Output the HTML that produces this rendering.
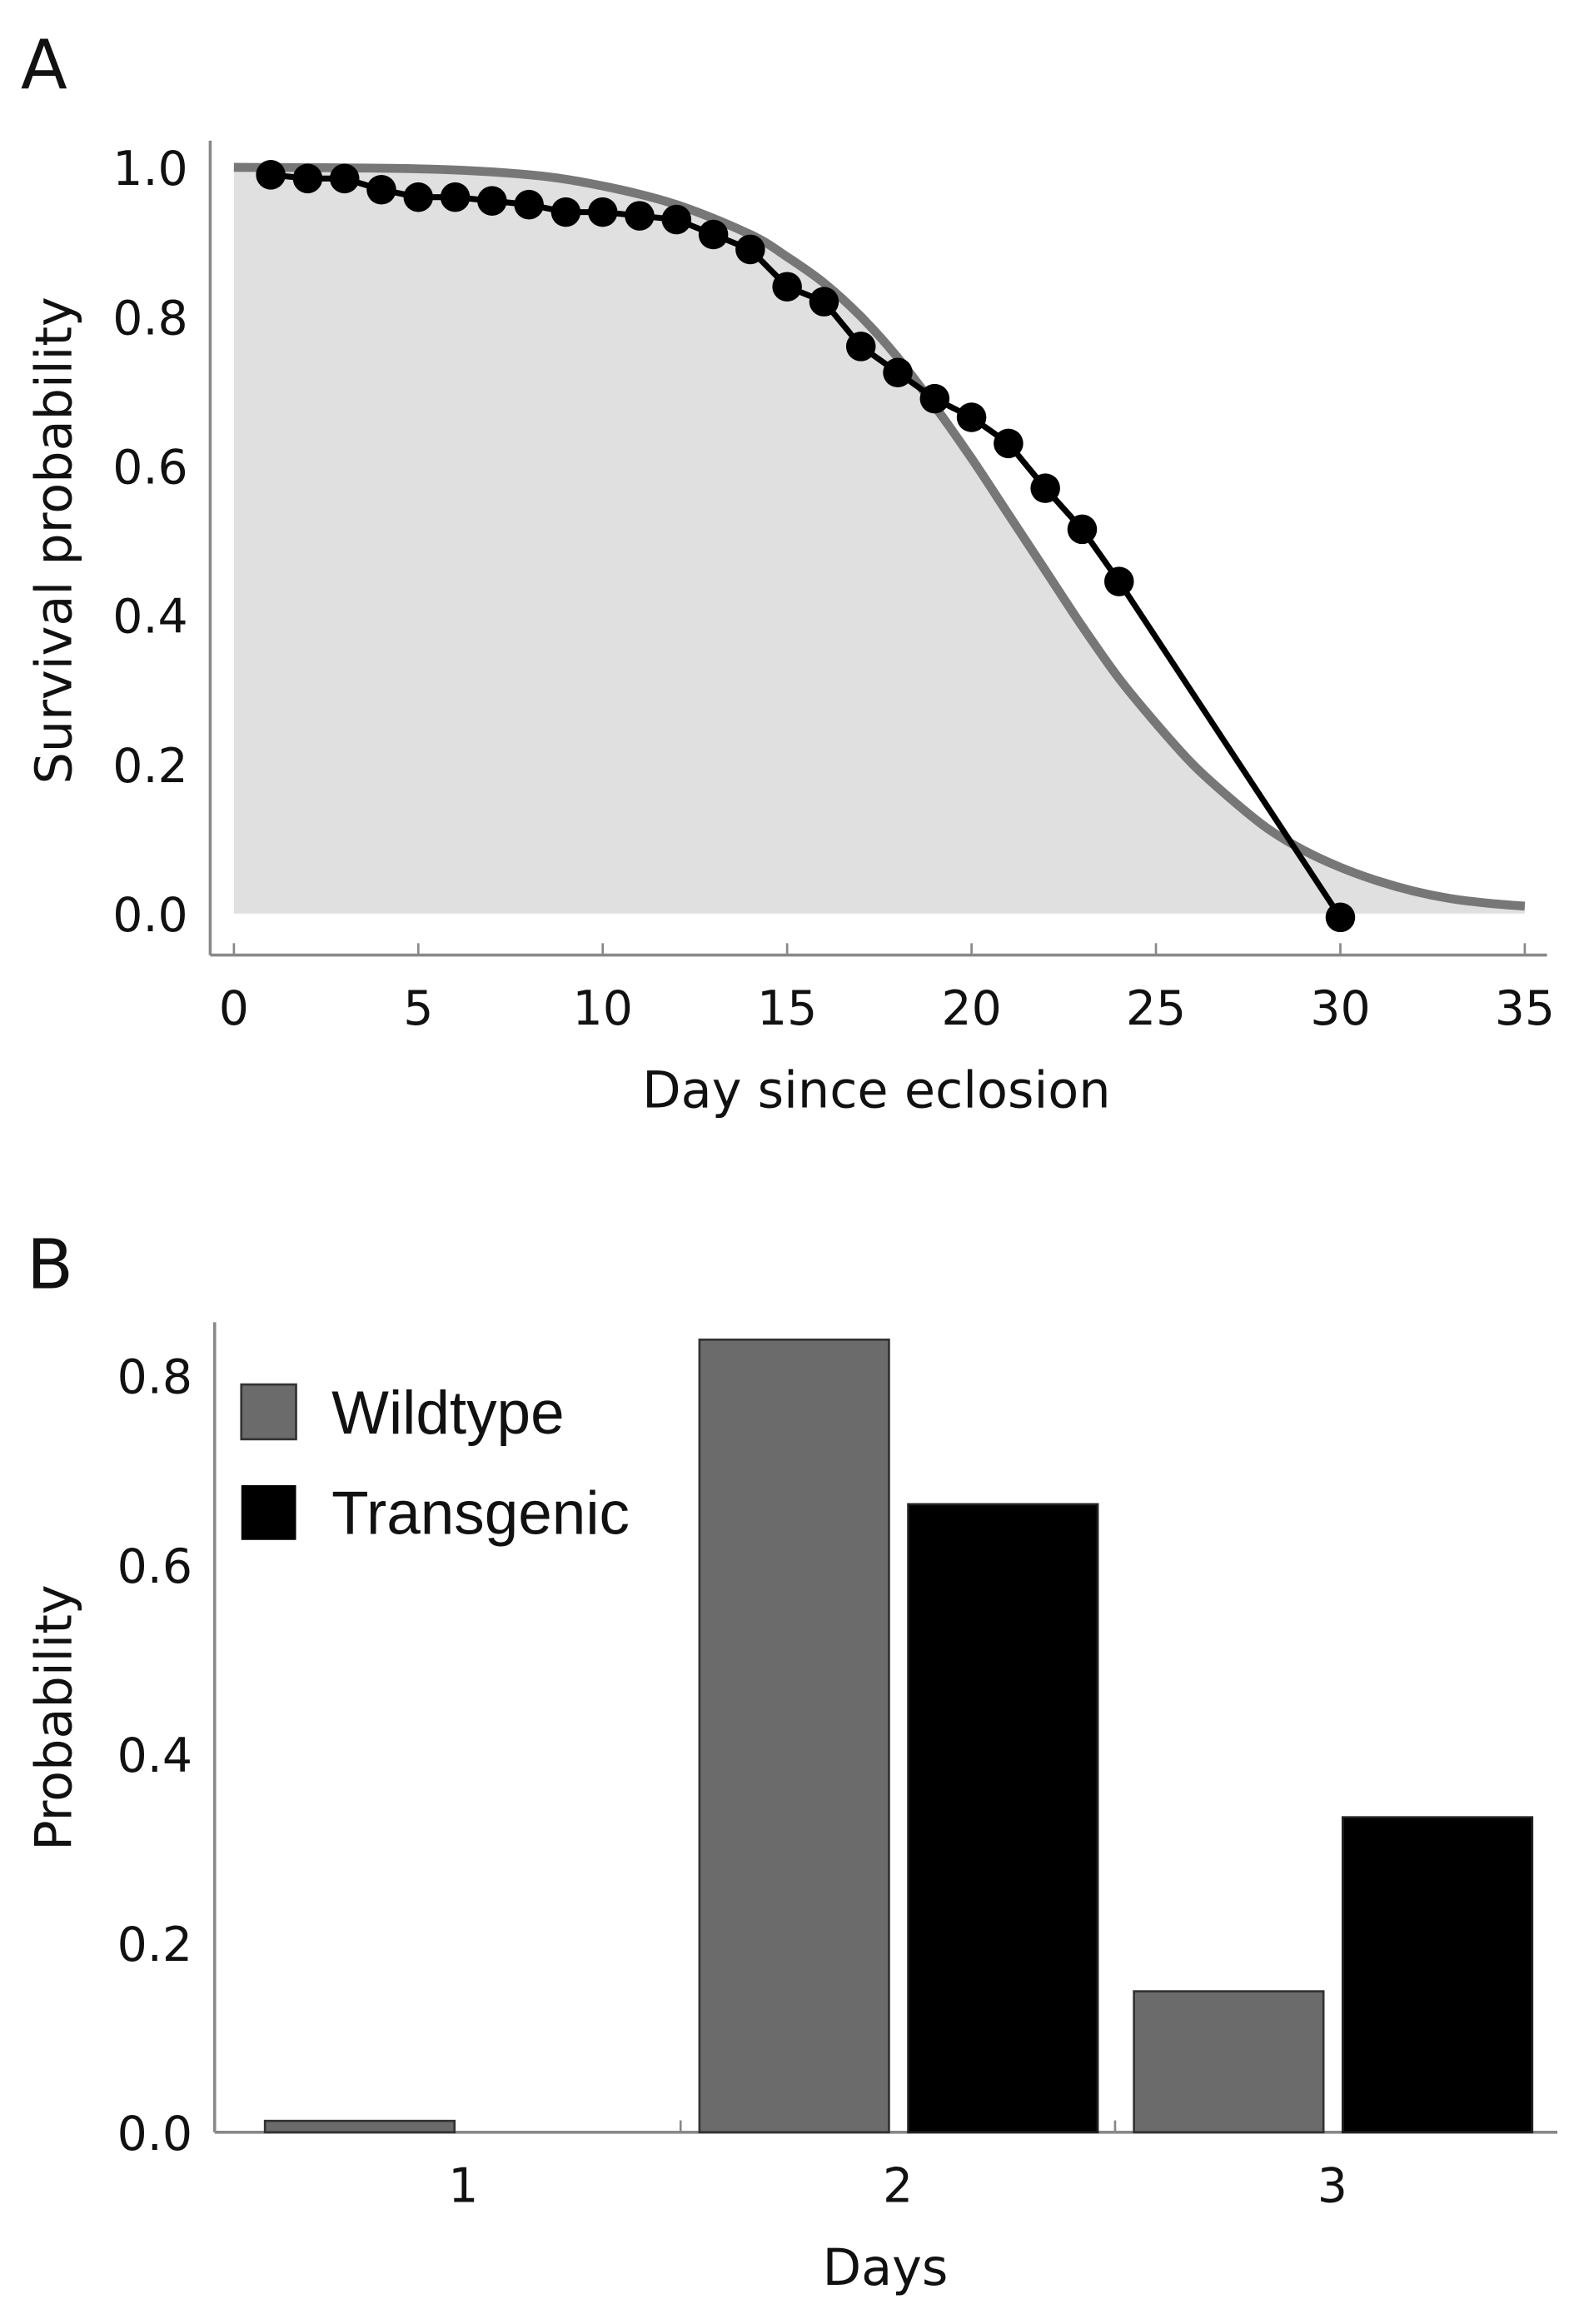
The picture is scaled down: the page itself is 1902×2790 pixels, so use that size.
<!DOCTYPE html>
<html><head><meta charset="utf-8"><style>
html,body{margin:0;padding:0;background:#fff}
svg{display:block}
text{font-family:"DejaVu Sans","Liberation Sans",sans-serif;fill:#111}
</style></head><body>
<svg id="fig" width="1902" height="2790" viewBox="0 0 1070 1569.5" preserveAspectRatio="none" xmlns="http://www.w3.org/2000/svg">
<text x="14" y="60" font-size="46">A</text>
<g id="pa"></g>
<text x="18" y="870" font-size="46">B</text>
<g id="pb"></g>
</svg>
<script>
// Panel A data
const survDays = [1,2,3,4,5,6,7,8,9,10,11,12,13,14,15,16,17,18,19,20,21,22,23,24,30];
const survValues = [0.99,0.985,0.985,0.97,0.96,0.96,0.955,0.95,0.94,0.94,0.935,0.93,0.91,0.89,0.84,0.82,0.76,0.725,0.69,0.665,0.63,0.57,0.515,0.445,-0.005];
const fitDays = [0,5,8,10,12,14,15,16,17,18,19,20,21,22,23,24,25,26,27,28,29,30,31,32,33,34,35];
const fitValues = [1.0,0.998,0.99,0.975,0.95,0.91,0.88,0.845,0.8,0.745,0.68,0.61,0.535,0.46,0.385,0.315,0.255,0.2,0.155,0.115,0.085,0.062,0.044,0.03,0.02,0.014,0.01];
const xTicksA = [0,5,10,15,20,25,30,35];
const yTicksA = ["0.0","0.2","0.4","0.6","0.8","1.0"];
// Panel B data
const dayCats = ["1","2","3"];
const wildtypeVals = [0.012,0.838,0.149];
const transgenicVals = [0,0.664,0.333];
const yTicksB = ["0.0","0.2","0.4","0.6","0.8"];

const NS="http://www.w3.org/2000/svg";
function mk(parent,tag,attrs,txt){const e=document.createElementNS(NS,tag);for(const k in attrs)e.setAttribute(k,attrs[k]);if(txt!==undefined)e.textContent=txt;parent.appendChild(e);return e;}

// ---- Panel A ----
const pa=document.getElementById('pa');
const xA=d=>158+d*(872/35);
const yA=v=>617-v*504;
let fp="M"+xA(fitDays[0])+","+yA(0);
fitDays.forEach((d,i)=>{fp+=" L"+xA(d)+","+yA(fitValues[i]);});
fp+=" L"+xA(fitDays[fitDays.length-1])+","+yA(0)+" Z";
let e=mk(pa,'path',{d:fp,fill:'#e0e0e0'});


function smooth(pts){let d="M"+pts[0][0]+","+pts[0][1];for(let i=0;i<pts.length-1;i++){const p0=pts[Math.max(0,i-1)],p1=pts[i],p2=pts[i+1],p3=pts[Math.min(pts.length-1,i+2)];const c1=[p1[0]+(p2[0]-p0[0])/6,p1[1]+(p2[1]-p0[1])/6],c2=[p2[0]-(p3[0]-p1[0])/6,p2[1]-(p3[1]-p1[1])/6];d+=" C"+c1+" "+c2+" "+p2;}return d;}
e=mk(pa,'path',{d:smooth(fitDays.map((d,i)=>[xA(d),yA(fitValues[i])])),fill:'none',stroke:'#777','stroke-width':6});


e=mk(pa,'line',{x1:142,y1:95,x2:142,y2:645,stroke:'#888','stroke-width':2});


e=mk(pa,'line',{x1:142,y1:645,x2:1045,y2:645,stroke:'#888','stroke-width':2});


xTicksA.forEach(t=>{
  const l=mk(pa,'line',{x1:xA(t),y1:645,x2:xA(t),y2:637,stroke:'#888','stroke-width':1.5});
  
  
  const tx=mk(pa,'text',{x:xA(t),y:692,'font-size':32,'text-anchor':'middle'},String(t));
  
  
});
yTicksA.forEach(t=>{
  const tx=mk(pa,'text',{x:127,y:yA(parseFloat(t))+12,'font-size':32,'text-anchor':'end'},t);
  
  
});
e=mk(pa,'text',{x:592,y:748,'font-size':34,'text-anchor':'middle'},'Day since eclosion');


e=mk(pa,'text',{x:0,y:0,'font-size':34,'text-anchor':'middle',transform:'translate(48,365) rotate(-90)'},'Survival probability');


e=mk(pa,'polyline',{points:survDays.map((d,i)=>xA(d)+","+yA(survValues[i])).join(" "),fill:'none',stroke:'#000','stroke-width':4});


survDays.forEach((d,i)=>{
  const c=mk(pa,'circle',{cx:xA(d),cy:yA(survValues[i]),r:10,fill:'#000'});
  
  
});

// ---- Panel B ----
const pb=document.getElementById('pb');
const yB=v=>1440-v*638.75;
const cx=i=>313+i*293.5;
e=mk(pb,'line',{x1:145,y1:893,x2:145,y2:1440,stroke:'#888','stroke-width':2});


e=mk(pb,'line',{x1:145,y1:1440,x2:1052,y2:1440,stroke:'#888','stroke-width':2});


yTicksB.forEach(t=>{
  const tx=mk(pb,'text',{x:130,y:yB(parseFloat(t))+12,'font-size':32,'text-anchor':'end'},t);
  
  
});
dayCats.forEach((c,i)=>{
  const w=mk(pb,'rect',{x:cx(i)-134,y:yB(wildtypeVals[i]),width:128,height:Math.max(0,wildtypeVals[i]*638.75),fill:'#6b6b6b',stroke:'#333','stroke-width':1.5});
  
  
  const t=mk(pb,'rect',{x:cx(i)+7,y:yB(transgenicVals[i]),width:128,height:Math.max(0,transgenicVals[i]*638.75),fill:'#000',stroke:'#222','stroke-width':1.5});
  
  
  const tx=mk(pb,'text',{x:cx(i),y:1487,'font-size':32,'text-anchor':'middle'},c);
  
  
  if(i>0){const l=mk(pb,'line',{x1:cx(i)-146.75,y1:1440,x2:cx(i)-146.75,y2:1432,stroke:'#888','stroke-width':1.5});
  
  }
});
e=mk(pb,'text',{x:598,y:1543,'font-size':34,'text-anchor':'middle'},'Days');


e=mk(pb,'text',{x:0,y:0,'font-size':34,'text-anchor':'middle',transform:'translate(48,1160) rotate(-90)'},'Probability');


e=mk(pb,'rect',{x:163,y:935,width:37,height:37,fill:'#6b6b6b',stroke:'#333','stroke-width':1.5});


e=mk(pb,'text',{x:224,y:968,'font-size':41,style:'font-family:"Liberation Sans",sans-serif'},'Wildtype');


e=mk(pb,'rect',{x:163,y:1003,width:37,height:37,fill:'#000'});


e=mk(pb,'text',{x:224,y:1036,'font-size':41,style:'font-family:"Liberation Sans",sans-serif'},'Transgenic');


</script>
</body></html>
